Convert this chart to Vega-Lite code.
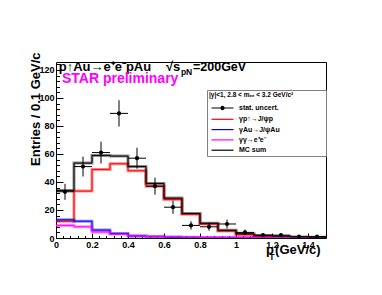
{
  "$schema": "https://vega.github.io/schema/vega-lite/v6.json",
  "width": 270,
  "height": 176,
  "autosize": {"type": "none"},
  "padding": {"left": 56, "top": 62, "right": 56, "bottom": 57},
  "background": "white",
  "config": {
    "view": {"stroke": "black", "strokeWidth": 1},
    "font": "Liberation Sans",
    "axis": {"grid": false, "domain": false, "tickColor": "black", "labelColor": "black", "labelFont": "Liberation Sans", "labelFontWeight": "bold", "labelFontSize": 9, "titleColor": "black"}
  },
  "datasets": {
    "hist": [
      {"lo": 0.0, "sum": 34, "gp": 12, "gAu": 13, "gg": 9},
      {"lo": 0.1, "sum": 53.5, "gp": 33.5, "gAu": 12, "gg": 8},
      {"lo": 0.2, "sum": 59, "gp": 49, "gAu": 5.7, "gg": 4.3},
      {"lo": 0.3, "sum": 58.5, "gp": 53, "gAu": 3.2, "gg": 2.8},
      {"lo": 0.4, "sum": 51, "gp": 48, "gAu": 1.5, "gg": 1.5},
      {"lo": 0.5, "sum": 39, "gp": 37, "gAu": 1, "gg": 1},
      {"lo": 0.6, "sum": 28.5, "gp": 27.5, "gAu": 0.5, "gg": 0.7},
      {"lo": 0.7, "sum": 17.5, "gp": 17, "gAu": 0.3, "gg": 0.5},
      {"lo": 0.8, "sum": 10.5, "gp": 10, "gAu": 0.2, "gg": 0.4},
      {"lo": 0.9, "sum": 5.5, "gp": 5, "gAu": 0.1, "gg": 0.4},
      {"lo": 1.0, "sum": 3, "gp": 2.5, "gAu": 0.1, "gg": 0.4},
      {"lo": 1.1, "sum": 1.7, "gp": 1.2, "gAu": 0.05, "gg": 0.4},
      {"lo": 1.2, "sum": 1.2, "gp": 0.8, "gAu": 0, "gg": 0.4},
      {"lo": 1.3, "sum": 0.8, "gp": 0.4, "gAu": 0, "gg": 0.4},
      {"lo": 1.4, "sum": 0.6, "gp": 0.2, "gAu": 0, "gg": 0.4},
      {"lo": 1.5, "sum": 0.6, "gp": 0.2, "gAu": 0, "gg": 0.4}
    ],
    "pts": [
      {"x": 0.05, "x0": 0.0, "x1": 0.1, "n": 33, "ymin": 27.3, "ymax": 38.7},
      {"x": 0.15, "x0": 0.1, "x1": 0.2, "n": 51, "ymin": 43.9, "ymax": 58.1},
      {"x": 0.25, "x0": 0.2, "x1": 0.3, "n": 61, "ymin": 53.2, "ymax": 68.8},
      {"x": 0.35, "x0": 0.3, "x1": 0.4, "n": 89, "ymin": 79.6, "ymax": 98.4},
      {"x": 0.45, "x0": 0.4, "x1": 0.5, "n": 57, "ymin": 49.5, "ymax": 64.5},
      {"x": 0.55, "x0": 0.5, "x1": 0.6, "n": 37, "ymin": 30.9, "ymax": 43.1},
      {"x": 0.65, "x0": 0.6, "x1": 0.7, "n": 22, "ymin": 17.3, "ymax": 26.7},
      {"x": 0.75, "x0": 0.7, "x1": 0.8, "n": 9, "ymin": 6, "ymax": 12},
      {"x": 0.85, "x0": 0.8, "x1": 0.9, "n": 8, "ymin": 5.2, "ymax": 10.8},
      {"x": 0.95, "x0": 0.9, "x1": 1.0, "n": 10, "ymin": 6.8, "ymax": 13.2},
      {"x": 1.05, "x0": 1.0, "x1": 1.1, "n": 4, "ymin": 2, "ymax": 6},
      {"x": 1.15, "x0": 1.1, "x1": 1.2, "n": 2, "ymin": 0.6, "ymax": 3.4},
      {"x": 1.25, "x0": 1.2, "x1": 1.3, "n": 2, "ymin": 0.6, "ymax": 3.4},
      {"x": 1.35, "x0": 1.3, "x1": 1.4, "n": 1, "ymin": 0, "ymax": 2},
      {"x": 1.45, "x0": 1.4, "x1": 1.5, "n": 1, "ymin": 0, "ymax": 2}
    ]
  },
  "resolve": {"axis": {"x": "independent", "y": "independent"}},
  "layer": [
    {
      "data": {"name": "hist"},
      "transform": [{"fold": ["gp", "gAu", "gg", "sum"], "as": ["key", "value"]}],
      "mark": {"type": "line", "interpolate": "step-after", "strokeWidth": 3, "opacity": 0.45, "clip": true},
      "encoding": {
        "x": {"field": "lo", "type": "quantitative", "scale": {"domain": [0, 1.5], "nice": false, "zero": false},
          "axis": {"orient": "bottom", "values": [0, 0.2, 0.4, 0.6, 0.8, 1, 1.2, 1.4], "format": "~g", "tickSize": -5, "labelPadding": 7, "title": null, "labelFlush": false, "labelOverlap": false}},
        "y": {"field": "value", "type": "quantitative", "scale": {"domain": [0, 125.7], "nice": false},
          "axis": {"orient": "left", "values": [0, 20, 40, 60, 80, 100, 120], "tickSize": -7, "labelPadding": 9, "labelOverlap": false,
            "title": "Entries / 0.1 GeV/c", "titleFont": "Liberation Sans", "titleFontWeight": "bold", "titleFontSize": 13,
            "titleAngle": 270, "titleAlign": "right", "titleBaseline": "alphabetic", "titleX": -17, "titleY": -10}},
        "color": {"field": "key", "type": "nominal",
          "scale": {"domain": ["data", "gp", "gAu", "gg", "sum"], "range": ["#000000", "#ff0000", "#0000ff", "#ff00ff", "#000000"]},
          "legend": {
            "orient": "none", "legendX": 151, "legendY": 28,
            "title": "|y|<1, 2.8 < mₑₑ < 3.2 GeV/c²\u00a0\u00a0\u00a0\u00a0\u00a0\u00a0\u00a0\u00a0\u00a0\u00a0\u00a0\u00a0\u00a0\u00a0\u00a0\u00a0\u00a0\u200b",
            "titleFont": "Liberation Sans", "titleFontSize": 6.5, "titleFontWeight": "bold", "titleColor": "black", "titlePadding": 3, "titleLimit": 400,
            "labelFont": "Liberation Sans", "labelFontSize": 7, "labelFontWeight": "bold", "labelColor": "black", "labelLimit": 200,
            "labelExpr": "{'data': 'stat. uncert.', 'gp': 'γp↑→J/ψp', 'gAu': 'γAu→J/ψAu', 'gg': 'γγ→e⁺e⁻', 'sum': 'MC sum'}[datum.value]",
            "symbolSize": 121, "symbolOffset": 7, "labelOffset": 10, "symbolStrokeWidth": 1.3, "symbolOpacity": 1, "rowPadding": 0.3,
            "padding": 2, "strokeColor": "#808080", "fillColor": "white",
            "encode": {"symbols": {"update": {
              "shape": {"signal": "datum.value === 'data' ? 'M-2,0H2M-0.28,0A0.28,0.28,0,1,1,0.28,0A0.28,0.28,0,1,1,-0.28,0Z' : 'M-2,0H2'"},
              "fill": {"signal": "datum.value === 'data' ? 'black' : 'transparent'"},
              "strokeWidth": {"value": 1.2},
              "opacity": {"value": 1}
            }}}
          }},
        "detail": {"field": "key"}
      }
    },
    {
      "data": {"name": "hist"},
      "transform": [{"fold": ["gp", "gAu", "gg", "sum"], "as": ["key", "value"]}],
      "mark": {"type": "line", "interpolate": "step-after", "strokeWidth": 1, "clip": true},
      "encoding": {
        "x": {"field": "lo", "type": "quantitative", "axis": null},
        "y": {"field": "value", "type": "quantitative", "axis": null},
        "color": {"field": "key", "type": "nominal"},
        "detail": {"field": "key"}
      }
    },
    {
      "data": {"name": "pts"},
      "mark": {"type": "rule", "color": "black", "strokeWidth": 1},
      "encoding": {
        "x": {"field": "x0", "type": "quantitative", "axis": null},
        "x2": {"field": "x1"},
        "y": {"field": "n", "type": "quantitative", "axis": null}
      }
    },
    {
      "data": {"name": "pts"},
      "mark": {"type": "rule", "color": "black", "strokeWidth": 1},
      "encoding": {
        "x": {"field": "x", "type": "quantitative", "axis": null},
        "y": {"field": "ymin", "type": "quantitative", "axis": null},
        "y2": {"field": "ymax"}
      }
    },
    {
      "data": {"name": "pts"},
      "mark": {"type": "point", "shape": "circle", "filled": true, "color": "black", "size": 18, "opacity": 1},
      "encoding": {
        "x": {"field": "x", "type": "quantitative",
          "axis": {"orient": "bottom", "values": [0.04, 0.08, 0.12, 0.16, 0.24, 0.28, 0.32, 0.36, 0.44, 0.48, 0.52, 0.56, 0.64, 0.68, 0.72, 0.76, 0.84, 0.88, 0.92, 0.96, 1.04, 1.08, 1.12, 1.16, 1.24, 1.28, 1.32, 1.36, 1.44, 1.48], "labels": false, "tickSize": -2.5, "title": null}},
        "y": {"field": "n", "type": "quantitative",
          "axis": {"orient": "left", "values": [4, 8, 12, 16, 24, 28, 32, 36, 44, 48, 52, 56, 64, 68, 72, 76, 84, 88, 92, 96, 104, 108, 112, 116, 124], "labels": false, "tickSize": -3.5, "title": null}}
      }
    },
    {
      "data": {"values": [{}]},
      "mark": {"type": "text", "text": "p↑Au→e⁺e⁻pAu", "align": "left", "baseline": "alphabetic", "fontWeight": "bold", "fontSize": 13, "font": "Liberation Sans", "color": "black"},
      "encoding": {"x": {"datum": 0.015, "type": "quantitative", "axis": null}, "y": {"datum": 119.3, "type": "quantitative", "axis": null}}
    },
    {
      "data": {"values": [{}]},
      "mark": {"type": "text", "text": "√s", "align": "left", "baseline": "alphabetic", "fontWeight": "bold", "fontSize": 13, "font": "Liberation Sans", "color": "black"},
      "encoding": {"x": {"datum": 0.611, "type": "quantitative", "axis": null}, "y": {"datum": 119.3, "type": "quantitative", "axis": null}}
    },
    {
      "data": {"values": [{}]},
      "mark": {"type": "text", "text": "pN", "align": "left", "baseline": "alphabetic", "fontWeight": "bold", "fontSize": 8.5, "font": "Liberation Sans", "color": "black"},
      "encoding": {"x": {"datum": 0.694, "type": "quantitative", "axis": null}, "y": {"datum": 116.4, "type": "quantitative", "axis": null}}
    },
    {
      "data": {"values": [{}]},
      "mark": {"type": "text", "text": "=200GeV", "align": "left", "baseline": "alphabetic", "fontWeight": "bold", "fontSize": 12.5, "font": "Liberation Sans", "color": "black"},
      "encoding": {"x": {"datum": 0.761, "type": "quantitative", "axis": null}, "y": {"datum": 119.3, "type": "quantitative", "axis": null}}
    },
    {
      "data": {"values": [{}]},
      "mark": {"type": "text", "text": "STAR preliminary", "align": "left", "baseline": "alphabetic", "fontWeight": "bold", "fontSize": 14, "font": "Liberation Sans", "color": "#ff00ff"},
      "encoding": {"x": {"datum": 0.033, "type": "quantitative", "axis": null}, "y": {"datum": 110.7, "type": "quantitative", "axis": null}}
    },
    {
      "data": {"values": [{}]},
      "mark": {"type": "text", "text": "p", "align": "left", "baseline": "alphabetic", "fontWeight": "bold", "fontSize": 13, "font": "Liberation Sans", "color": "black"},
      "encoding": {"x": {"datum": 1.167, "type": "quantitative", "axis": null}, "y": {"datum": -11.4, "type": "quantitative", "axis": null}}
    },
    {
      "data": {"values": [{}]},
      "mark": {"type": "text", "text": "T", "align": "left", "baseline": "alphabetic", "fontWeight": "bold", "fontSize": 8.5, "font": "Liberation Sans", "color": "black"},
      "encoding": {"x": {"datum": 1.185, "type": "quantitative", "axis": null}, "y": {"datum": -15.7, "type": "quantitative", "axis": null}}
    },
    {
      "data": {"values": [{}]},
      "mark": {"type": "text", "text": "(GeV/c)", "align": "left", "baseline": "alphabetic", "fontWeight": "bold", "fontSize": 13, "font": "Liberation Sans", "color": "black"},
      "encoding": {"x": {"datum": 1.217, "type": "quantitative", "axis": null}, "y": {"datum": -11.4, "type": "quantitative", "axis": null}}
    }
  ]
}
